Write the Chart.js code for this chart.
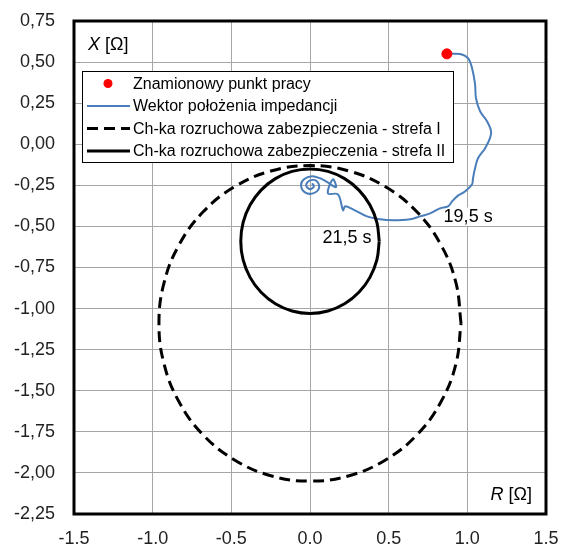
<!DOCTYPE html>
<html>
<head>
<meta charset="utf-8">
<script src="https://cdn.jsdelivr.net/npm/chart.js@4.4.0/dist/chart.umd.min.js"></script>
<style>
body { margin: 0; background: #fff; }
#wrap { width: 561px; height: 544px; }
</style>
</head>
<body>
<div id="wrap"><canvas id="myChart" width="561" height="544"></canvas></div>
<script>
var seriesNames = [
    "Znamionowy punkt pracy",
    "Wektor położenia impedancji",
    "Ch-ka rozruchowa zabezpieczenia - strefa I",
    "Ch-ka rozruchowa zabezpieczenia - strefa II"
];

var workPoint = [{x: 0.87, y: 0.55}];

var impedancePath = [
    {x: 0.871, y: 0.549}, {x: 0.954, y: 0.549}, {x: 1.004, y: 0.524}, {x: 1.03, y: 0.463},
    {x: 1.049, y: 0.366}, {x: 1.055, y: 0.28}, {x: 1.081, y: 0.201}, {x: 1.125, y: 0.14},
    {x: 1.151, y: 0.079}, {x: 1.144, y: 0.037}, {x: 1.113, y: -0.024}, {x: 1.068, y: -0.085},
    {x: 1.049, y: -0.146}, {x: 1.036, y: -0.207}, {x: 1.03, y: -0.244}, {x: 0.985, y: -0.287},
    {x: 0.935, y: -0.317}, {x: 0.903, y: -0.348}, {x: 0.877, y: -0.378}, {x: 0.826, y: -0.39},
    {x: 0.763, y: -0.421}, {x: 0.699, y: -0.439}, {x: 0.636, y: -0.457}, {x: 0.528, y: -0.463},
    {x: 0.445, y: -0.457}, {x: 0.362, y: -0.439}, {x: 0.273, y: -0.396}, {x: 0.223, y: -0.378},
    {x: 0.21, y: -0.402}, {x: 0.178, y: -0.305}, {x: 0.114, y: -0.299}, {x: 0.146, y: -0.213},
    {x: 0.165, y: -0.262}, {x: 0.102, y: -0.226}, {x: 0.064, y: -0.207}, {x: 0.013, y: -0.195},
    {x: -0.038, y: -0.213}, {x: -0.057, y: -0.25}, {x: -0.032, y: -0.293}, {x: 0.019, y: -0.299},
    {x: 0.057, y: -0.268}, {x: 0.045, y: -0.226}, {x: 0, y: -0.22}, {x: -0.025, y: -0.25},
    {x: 0, y: -0.274}, {x: 0.025, y: -0.256}, {x: 0.013, y: -0.238}
];

var zone1 = [
    {x: 0.96, y: -1.09}, {x: 0.927, y: -0.841}, {x: 0.831, y: -0.61}, {x: 0.679, y: -0.411},
    {x: 0.48, y: -0.259}, {x: 0.249, y: -0.163}, {x: 0, y: -0.13}, {x: -0.249, y: -0.163},
    {x: -0.48, y: -0.259}, {x: -0.679, y: -0.411}, {x: -0.831, y: -0.61}, {x: -0.927, y: -0.841},
    {x: -0.96, y: -1.09}, {x: -0.927, y: -1.339}, {x: -0.831, y: -1.57}, {x: -0.679, y: -1.769},
    {x: -0.48, y: -1.921}, {x: -0.249, y: -2.017}, {x: 0, y: -2.05}, {x: 0.249, y: -2.017},
    {x: 0.48, y: -1.921}, {x: 0.679, y: -1.769}, {x: 0.831, y: -1.57}, {x: 0.927, y: -1.339},
    {x: 0.96, y: -1.09}
];

var zone2 = [
    {x: 0.44, y: -0.59}, {x: 0.425, y: -0.476}, {x: 0.381, y: -0.37}, {x: 0.311, y: -0.279},
    {x: 0.22, y: -0.209}, {x: 0.114, y: -0.165}, {x: 0, y: -0.15}, {x: -0.114, y: -0.165},
    {x: -0.22, y: -0.209}, {x: -0.311, y: -0.279}, {x: -0.381, y: -0.37}, {x: -0.425, y: -0.476},
    {x: -0.44, y: -0.59}, {x: -0.425, y: -0.704}, {x: -0.381, y: -0.81}, {x: -0.311, y: -0.901},
    {x: -0.22, y: -0.971}, {x: -0.114, y: -1.015}, {x: 0, y: -1.03}, {x: 0.114, y: -1.015},
    {x: 0.22, y: -0.971}, {x: 0.311, y: -0.901}, {x: 0.381, y: -0.81}, {x: 0.425, y: -0.704},
    {x: 0.44, y: -0.59}
];

var timeLabels = ["19,5 s", "21,5 s"];
var xTitle = "R [Ω]";
var yTitle = "X [Ω]";

var FONT = '"Liberation Sans", Arial, sans-serif';

function drawLabel(ctx, text, px, py) {
    ctx.font = '18px ' + FONT;
    var w = ctx.measureText(text).width;
    ctx.fillStyle = '#fff';
    ctx.fillRect(px - w / 2 - 1, py - 9, w + 2, 18);
    ctx.fillStyle = '#000';
    ctx.textAlign = 'center';
    ctx.textBaseline = 'middle';
    ctx.fillText(text, px, py);
}

function drawTitle(ctx, letter, rest, px, py) {
    ctx.fillStyle = '#000';
    ctx.textBaseline = 'middle';
    ctx.textAlign = 'left';
    ctx.font = 'italic 18px ' + FONT;
    ctx.fillText(letter, px, py);
    var w = ctx.measureText(letter).width;
    ctx.font = '18px ' + FONT;
    ctx.fillText(rest, px + w, py);
}

function drawLegend(chart) {
    var ctx = chart.ctx;
    var x0 = 82, y0 = 71, w = 371, h = 91;
    ctx.save();
    ctx.fillStyle = '#fff';
    ctx.fillRect(x0, y0, w, h);
    ctx.strokeStyle = '#000';
    ctx.lineWidth = 1;
    ctx.strokeRect(x0 + 0.5, y0 + 0.5, w, h);
    ctx.font = '16px ' + FONT;
    ctx.textBaseline = 'middle';
    ctx.textAlign = 'left';
    for (var i = 0; i < seriesNames.length; i++) {
        var ds = chart.data.datasets[i];
        var y = y0 + 12.5 + i * 22.5;
        if (i == 0) {
            ctx.fillStyle = ds.pointBackgroundColor;
            ctx.beginPath();
            ctx.arc(108, y, 4.5, 0, Math.PI * 2);
            ctx.fill();
        } else {
            ctx.strokeStyle = ds.borderColor;
            ctx.lineWidth = ds.borderWidth;
            ctx.setLineDash(ds.borderDash || []);
            ctx.beginPath();
            ctx.moveTo(87, y);
            ctx.lineTo(130, y);
            ctx.stroke();
            ctx.setLineDash([]);
        }
        ctx.fillStyle = '#000';
        ctx.fillText(seriesNames[i], 133, y + 1);
    }
    ctx.restore();
}

var extras = {
    id: 'extras',
    beforeDatasetsDraw: function (chart) {
        var ctx = chart.ctx;
        var xs = chart.scales.x, ys = chart.scales.y;
        ctx.save();
        drawLabel(ctx, timeLabels[0], xs.getPixelForValue(1.005), ys.getPixelForValue(-0.44));
        drawLabel(ctx, timeLabels[1], xs.getPixelForValue(0.235), ys.getPixelForValue(-0.573));
        ctx.restore();
    },
    afterDraw: function (chart) {
        var ctx = chart.ctx;
        var a = chart.chartArea;
        ctx.save();
        drawTitle(ctx, yTitle.charAt(0), yTitle.slice(1), a.left + 14, a.top + 24);
        var tw;
        ctx.font = '18px ' + FONT;
        tw = ctx.measureText(xTitle).width;
        drawTitle(ctx, xTitle.charAt(0), xTitle.slice(1), a.right - 14 - tw, a.bottom - 19);
        ctx.strokeStyle = '#000';
        ctx.lineWidth = 3;
        ctx.strokeRect(a.left, a.top, a.right - a.left, a.bottom - a.top);
        ctx.restore();
        drawLegend(chart);
    }
};

var ctx = document.getElementById("myChart").getContext('2d');
var myChart = new Chart(ctx, {
    type: 'scatter',
    data: {
        datasets: [{
            label: seriesNames[0],
            data: workPoint,
            pointRadius: 5,
            pointBackgroundColor: '#ff0000',
            pointBorderColor: '#ff0000',
            showLine: false,
            order: 0
        }, {
            label: seriesNames[1],
            data: impedancePath,
            showLine: true,
            pointRadius: 0,
            borderColor: '#4a7ebb',
            borderWidth: 2,
            tension: 0.35,
            order: 3
        }, {
            label: seriesNames[2],
            data: zone1,
            showLine: true,
            pointRadius: 0,
            borderColor: '#000000',
            borderWidth: 3,
            borderDash: [11, 6],
            tension: 0.4,
            order: 2
        }, {
            label: seriesNames[3],
            data: zone2,
            showLine: true,
            pointRadius: 0,
            borderColor: '#000000',
            borderWidth: 3,
            tension: 0.4,
            order: 1
        }]
    },
    options: {
        responsive: false,
        animation: false,
        layout: {padding: {top: 21, right: 15, left: 0, bottom: 0}},
        plugins: {
            legend: {display: false},
            tooltip: {enabled: false}
        },
        scales: {
            x: {
                type: 'linear',
                min: -1.5,
                max: 1.5,
                ticks: {
                    stepSize: 0.5,
                    padding: 14,
                    color: '#222',
                    font: {family: FONT, size: 18},
                    callback: function (v) { return v.toFixed(1); }
                },
                grid: {color: '#a6a6a6', lineWidth: 1, drawTicks: false},
                border: {display: false},
                afterFit: function (s) {
                    s.height = 30;
                    s.paddingLeft = 0;
                    s.paddingRight = 0;
                }
            },
            y: {
                type: 'linear',
                min: -2.25,
                max: 0.75,
                ticks: {
                    stepSize: 0.25,
                    padding: 19,
                    color: '#222',
                    font: {family: FONT, size: 18},
                    callback: function (v) { return v.toFixed(2).replace('.', ','); }
                },
                grid: {color: '#a6a6a6', lineWidth: 1, drawTicks: false},
                border: {display: false},
                afterFit: function (s) {
                    s.width = 74;
                    s.paddingTop = 0;
                    s.paddingBottom = 0;
                }
            }
        }
    },
    plugins: [extras]
});
</script>
</body>
</html>
